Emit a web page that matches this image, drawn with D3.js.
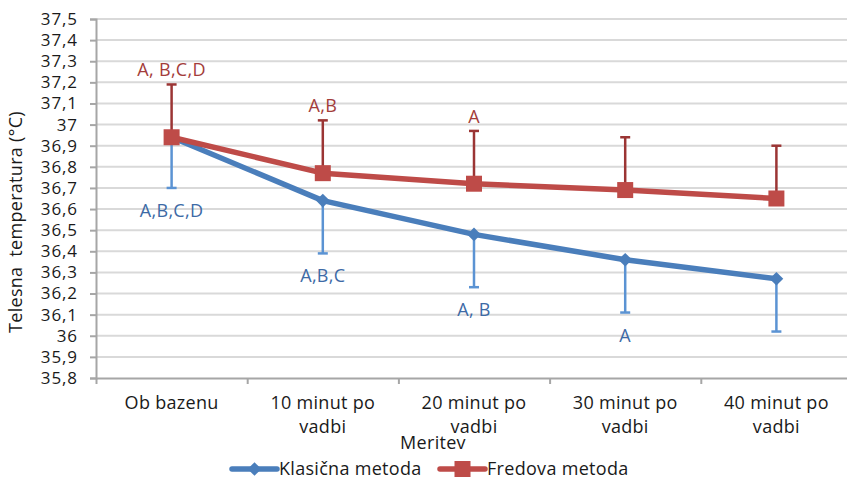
<!DOCTYPE html>
<html>
<head>
<meta charset="utf-8">
<script src="https://cdn.jsdelivr.net/npm/d3@7"></script>
<style>
  body { margin: 0; background: #fff; }
  text { font-family: 'Open Sans', sans-serif; letter-spacing: 0.3px; }
</style>
</head>
<body>
<svg id="chart"></svg>
<script>
const w = 847;
const h = 481;
const padLeft = 96, padRight = 852, padTop = 19, padBottom = 378;
const fs = 18;

// podatki
const meritve = [['Ob bazenu'], ['10 minut po', 'vadbi'], ['20 minut po', 'vadbi'], ['30 minut po', 'vadbi'], ['40 minut po', 'vadbi']];
const klasicna = [36.94, 36.64, 36.48, 36.36, 36.27];
const fredova = [36.94, 36.77, 36.72, 36.69, 36.65];
const klasicnaNapaka = [0.24, 0.25, 0.25, 0.25, 0.25];
const fredovaNapaka = [0.25, 0.25, 0.25, 0.25, 0.25];
const klasicnaOznake = ['A,B,C,D', 'A,B,C', 'A, B', 'A', ''];
const fredovaOznake = ['A, B,C,D', 'A,B', 'A', '', ''];
const yTicks = [35.8, 35.9, 36, 36.1, 36.2, 36.3, 36.4, 36.5, 36.6, 36.7, 36.8, 36.9, 37, 37.1, 37.2, 37.3, 37.4, 37.5];

const modra = '#4a7ebb', modraNapaka = '#5b93d3', modraTekst = '#3d6aa6';
const rdeca = '#be4b48', rdecaNapaka = '#9b3534', rdecaTekst = '#a33d3b';

const svg = d3.select('#chart').attr('width', w).attr('height', h);

const escalaY = d3.scaleLinear().domain([35.8, 37.5]).range([padBottom, padTop]);
const escalaX = d3.scaleBand().domain(d3.range(meritve.length)).range([padLeft, padRight]);
const cx = i => escalaX(i) + escalaX.bandwidth() / 2;

const fmt = d => String(+d.toFixed(1)).replace('.', ',');

// mreza
svg.append('g')
  .selectAll('line')
  .data(yTicks.slice(1))
  .enter()
  .append('line')
  .attr('x1', padLeft).attr('x2', padRight)
  .attr('y1', d => escalaY(d)).attr('y2', d => escalaY(d))
  .attr('stroke', '#d9d9d9').attr('stroke-width', 2);

// os Y
const ejeY = d3.axisLeft(escalaY).tickValues(yTicks).tickFormat(fmt).tickSize(6).tickPadding(12);
const gy = svg.append('g').attr('transform', 'translate(' + padLeft + ',0)').call(ejeY);
gy.select('.domain').attr('stroke', '#a6a6a6').attr('stroke-width', 2);
gy.selectAll('.tick line').attr('stroke', '#a6a6a6').attr('stroke-width', 2);
gy.selectAll('text').attr('font-size', 17).attr('fill', '#1a1a1a')
  .attr('font-family', "'Open Sans', sans-serif").style('letter-spacing', '0.9px');

// os X
const ejeX = d3.axisBottom(d3.scaleLinear().domain([0, meritve.length]).range([padLeft, padRight]))
  .tickValues(d3.range(meritve.length + 1)).tickFormat('').tickSize(6).tickSizeOuter(0);
const gx = svg.append('g').attr('transform', 'translate(0,' + padBottom + ')').call(ejeX);
gx.select('.domain').attr('stroke', '#a6a6a6').attr('stroke-width', 2);
gx.selectAll('.tick line').attr('stroke', '#a6a6a6').attr('stroke-width', 2);

svg.append('g')
  .selectAll('text')
  .data(meritve)
  .enter()
  .append('text')
  .attr('x', (d, i) => cx(i))
  .attr('y', 409)
  .attr('text-anchor', 'middle')
  .attr('font-size', fs)
  .attr('fill', '#1a1a1a')
  .each(function (d) {
    d3.select(this).selectAll('tspan').data(d).enter().append('tspan')
      .attr('x', cx(meritve.indexOf(d)))
      .attr('dy', (t, j) => j ? 24 : 0)
      .text(t => t);
  });

// naslovi osi
svg.append('text')
  .attr('x', 433).attr('y', 449)
  .attr('text-anchor', 'middle')
  .attr('font-size', fs).attr('fill', '#1a1a1a')
  .text('Meritev');

svg.append('text')
  .attr('transform', 'translate(22,222) rotate(-90)')
  .attr('text-anchor', 'middle')
  .attr('font-size', fs).attr('fill', '#1a1a1a')
  .style('white-space', 'pre')
  .text('Telesna  temperatura (°C)');

// napake
function napake(vals, err, smer, barva) {
  const g = svg.append('g').attr('stroke', barva).attr('stroke-width', 2.5);
  g.selectAll('line.v').data(vals).enter().append('line')
    .attr('x1', (d, i) => cx(i)).attr('x2', (d, i) => cx(i))
    .attr('y1', d => escalaY(d)).attr('y2', (d, i) => escalaY(d + smer * err[i]));
  g.selectAll('line.c').data(vals).enter().append('line')
    .attr('x1', (d, i) => cx(i) - 5).attr('x2', (d, i) => cx(i) + 5)
    .attr('y1', (d, i) => escalaY(d + smer * err[i])).attr('y2', (d, i) => escalaY(d + smer * err[i]));
}
napake(klasicna, klasicnaNapaka, -1, modraNapaka);
napake(fredova, fredovaNapaka, 1, rdecaNapaka);

const linija = d3.line().x((d, i) => cx(i)).y(d => escalaY(d));

// klasicna
svg.append('path').datum(klasicna)
  .attr('d', linija).attr('fill', 'none')
  .attr('stroke', modra).attr('stroke-width', 5.5).attr('stroke-linejoin', 'round');
svg.append('g').selectAll('path').data(klasicna).enter().append('path')
  .attr('d', d3.symbol().type(d3.symbolDiamond2).size(120))
  .attr('transform', (d, i) => 'translate(' + cx(i) + ',' + escalaY(d) + ')')
  .attr('fill', modra);

// fredova
svg.append('path').datum(fredova)
  .attr('d', linija).attr('fill', 'none')
  .attr('stroke', rdeca).attr('stroke-width', 5.5).attr('stroke-linejoin', 'round');
svg.append('g').selectAll('rect').data(fredova).enter().append('rect')
  .attr('x', (d, i) => cx(i) - 8).attr('y', d => escalaY(d) - 8)
  .attr('width', 16).attr('height', 16)
  .attr('fill', rdeca);

// oznake
svg.append('g').selectAll('text').data(fredova).enter().append('text')
  .attr('x', (d, i) => cx(i))
  .attr('y', (d, i) => escalaY(d + fredovaNapaka[i]) - 8)
  .attr('text-anchor', 'middle').attr('font-size', fs).attr('fill', rdecaTekst)
  .text((d, i) => fredovaOznake[i]);

svg.append('g').selectAll('text').data(klasicna).enter().append('text')
  .attr('x', (d, i) => cx(i))
  .attr('y', (d, i) => escalaY(d - klasicnaNapaka[i]) + 29)
  .attr('text-anchor', 'middle').attr('font-size', fs).attr('fill', modraTekst)
  .text((d, i) => klasicnaOznake[i]);

// legenda
const legenda = [
  {ime: 'Klasična metoda', barva: modra, x: 232, tip: 'diamant'},
  {ime: 'Fredova metoda', barva: rdeca, x: 440, tip: 'kvadrat'}
];
const gl = svg.append('g').selectAll('g').data(legenda).enter().append('g')
  .attr('transform', d => 'translate(' + d.x + ',469)');
gl.append('line').attr('x1', 0).attr('x2', 45).attr('y1', 0).attr('y2', 0)
  .attr('stroke', d => d.barva).attr('stroke-width', 5.5).attr('stroke-linecap', 'round');
gl.filter(d => d.tip === 'diamant').append('path')
  .attr('d', d3.symbol().type(d3.symbolDiamond2).size(120))
  .attr('transform', 'translate(22.5,0)').attr('fill', d => d.barva);
gl.filter(d => d.tip === 'kvadrat').append('rect')
  .attr('x', 14.5).attr('y', -8).attr('width', 16).attr('height', 16).attr('fill', d => d.barva);
gl.append('text').attr('x', 47).attr('y', 6)
  .attr('font-size', fs).attr('fill', '#1a1a1a')
  .text(d => d.ime);
</script>
</body>
</html>
